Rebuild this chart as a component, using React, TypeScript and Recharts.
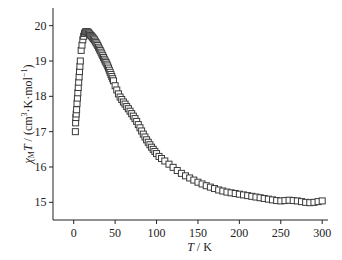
import { ScatterChart, Scatter, XAxis, YAxis } from 'recharts';

// temperature (K) and chi_M*T (cm3 K mol-1)
const temperature = [
  2.0, 2.3, 2.6, 3.0, 3.5, 4.0, 4.5, 5.0, 5.5, 6.0, 6.5, 7.0, 7.5, 8.0, 9.0, 10, 11, 12, 13, 14, 15, 16, 17, 18,
  19, 20, 21, 22, 23, 24, 25, 26, 27, 28, 29, 30, 31, 32, 33, 34, 35, 36, 37, 38, 39, 40, 41, 42, 43, 44, 45, 46, 47, 48,
  50, 52, 54, 56, 58, 60, 62, 64, 66, 68, 70, 72, 74, 76, 78, 80, 82, 84, 86, 88, 90, 92, 94, 96, 98, 100,
  103, 106, 110, 115, 120, 125, 130, 135, 140, 145, 150, 155, 160, 165, 170, 175, 180, 185, 190, 195, 200,
  205, 210, 215, 220, 225, 230, 235, 240, 245, 250, 255, 260, 265, 270, 275, 280, 285, 290, 295, 300,
];

const chiT = [
  17.0, 17.25, 17.4, 17.5, 17.62, 17.8, 17.95, 18.1, 18.25, 18.4, 18.55, 18.7, 18.85, 19.0, 19.3, 19.45, 19.6, 19.7, 19.78, 19.82, 19.83, 19.83, 19.82, 19.8,
  19.77, 19.74, 19.72, 19.69, 19.66, 19.63, 19.6, 19.56, 19.52, 19.48, 19.44, 19.39, 19.34, 19.3, 19.25, 19.2, 19.15, 19.1, 19.05, 19.0, 18.96, 18.91, 18.86, 18.8, 18.74, 18.68, 18.62, 18.56, 18.5, 18.44,
  18.3, 18.18, 18.07, 17.98, 17.91, 17.84, 17.78, 17.71, 17.65, 17.58, 17.51, 17.44, 17.37, 17.29, 17.2, 17.11, 17.02, 16.93, 16.85, 16.77, 16.7, 16.63, 16.56, 16.5, 16.44, 16.38,
  16.3, 16.24, 16.17, 16.08, 15.99, 15.9, 15.82, 15.75, 15.69, 15.63, 15.57, 15.52, 15.47, 15.43, 15.39, 15.35, 15.32, 15.29, 15.27, 15.25, 15.23,
  15.21, 15.19, 15.17, 15.15, 15.13, 15.11, 15.09, 15.07, 15.05, 15.04, 15.05, 15.06, 15.05, 15.04, 15.02, 15.0, 14.99, 15.0, 15.02, 15.04,
];

const xTicks = [0, 25, 50, 75, 100, 125, 150, 175, 200, 225, 250, 275, 300];
const yTicks = [15, 15.5, 16, 16.5, 17, 17.5, 18, 18.5, 19, 19.5, 20];

const data = temperature.map((t, i) => ({ t, chiT: chiT[i] }));

const FONT = '"Liberation Serif", "Times New Roman", serif';
const INK = '#222';

const XTick = ({ x, y, payload }: any) => {
  const major = payload.value % 50 === 0;
  return (
    <g>
      <line x1={x} x2={x} y1={y} y2={y + (major ? 4 : 2.5)} stroke={INK} />
      {major && (
        <text x={x} y={y + 17} textAnchor="middle" fontSize={12} fontFamily={FONT} fill={INK}>
          {payload.value}
        </text>
      )}
    </g>
  );
};

const YTick = ({ x, y, payload }: any) => {
  const major = Number.isInteger(payload.value);
  return (
    <g>
      <line x1={x} x2={x - (major ? 4 : 2.5)} y1={y} y2={y} stroke={INK} />
      {major && (
        <text x={x - 6.5} y={y + 4} textAnchor="end" fontSize={12} fontFamily={FONT} fill={INK}>
          {payload.value}
        </text>
      )}
    </g>
  );
};

const YLabel = ({ viewBox }: any) => {
  const cx = viewBox.x + 28;
  const cy = viewBox.y + viewBox.height / 2;
  return (
    <text
      transform={`translate(${cx},${cy}) rotate(-90)`}
      textAnchor="middle"
      dominantBaseline="central"
      fontSize={12}
      fontFamily={FONT}
      fill={INK}
    >
      <tspan fontStyle="italic">χ</tspan>
      <tspan fontSize={8} dy={3}>M</tspan>
      <tspan fontStyle="italic" dy={-3}>T</tspan>
      <tspan> / (cm</tspan>
      <tspan fontSize={8} dy={-4}>3</tspan>
      <tspan dy={4}>·K·mol</tspan>
      <tspan fontSize={8} dy={-4}>−1</tspan>
      <tspan dy={4}>)</tspan>
    </text>
  );
};

const XLabel = ({ viewBox }: any) => {
  const cx = viewBox.x + viewBox.width / 2 + 9;
  return (
    <text x={cx} y={viewBox.y + 31} textAnchor="middle" fontSize={12} fontFamily={FONT} fill={INK}>
      <tspan fontStyle="italic">T</tspan>
      <tspan> / K</tspan>
    </text>
  );
};

const OpenSquare = ({ cx, cy }: any) => (
  <rect x={cx - 3} y={cy - 3} width={6} height={6} fill="#fff" stroke="#3a3a3a" strokeWidth={1} />
);

export default function App() {
  return (
    <div style={{ position: 'absolute', left: 0, top: 0, width: 342, height: 260, background: '#fff' }}>
      <ScatterChart width={342} height={260} margin={{ top: 8, right: 14, bottom: 0, left: 0 }}>
        <XAxis
          type="number"
          dataKey="t"
          domain={[-25, 307]}
          ticks={xTicks}
          allowDataOverflow
          height={40}
          axisLine={{ stroke: INK }}
          tickLine={false}
          tickSize={0}
          tickMargin={0}
          tick={<XTick />}
          label={<XLabel />}
        />
        <YAxis
          type="number"
          dataKey="chiT"
          domain={[14.5, 20.5]}
          ticks={yTicks}
          allowDataOverflow
          width={53}
          axisLine={{ stroke: INK }}
          tickLine={false}
          tickSize={0}
          tickMargin={0}
          tick={<YTick />}
          label={<YLabel />}
        />
        <Scatter data={data} shape={<OpenSquare />} isAnimationActive={false} />
      </ScatterChart>
    </div>
  );
}
